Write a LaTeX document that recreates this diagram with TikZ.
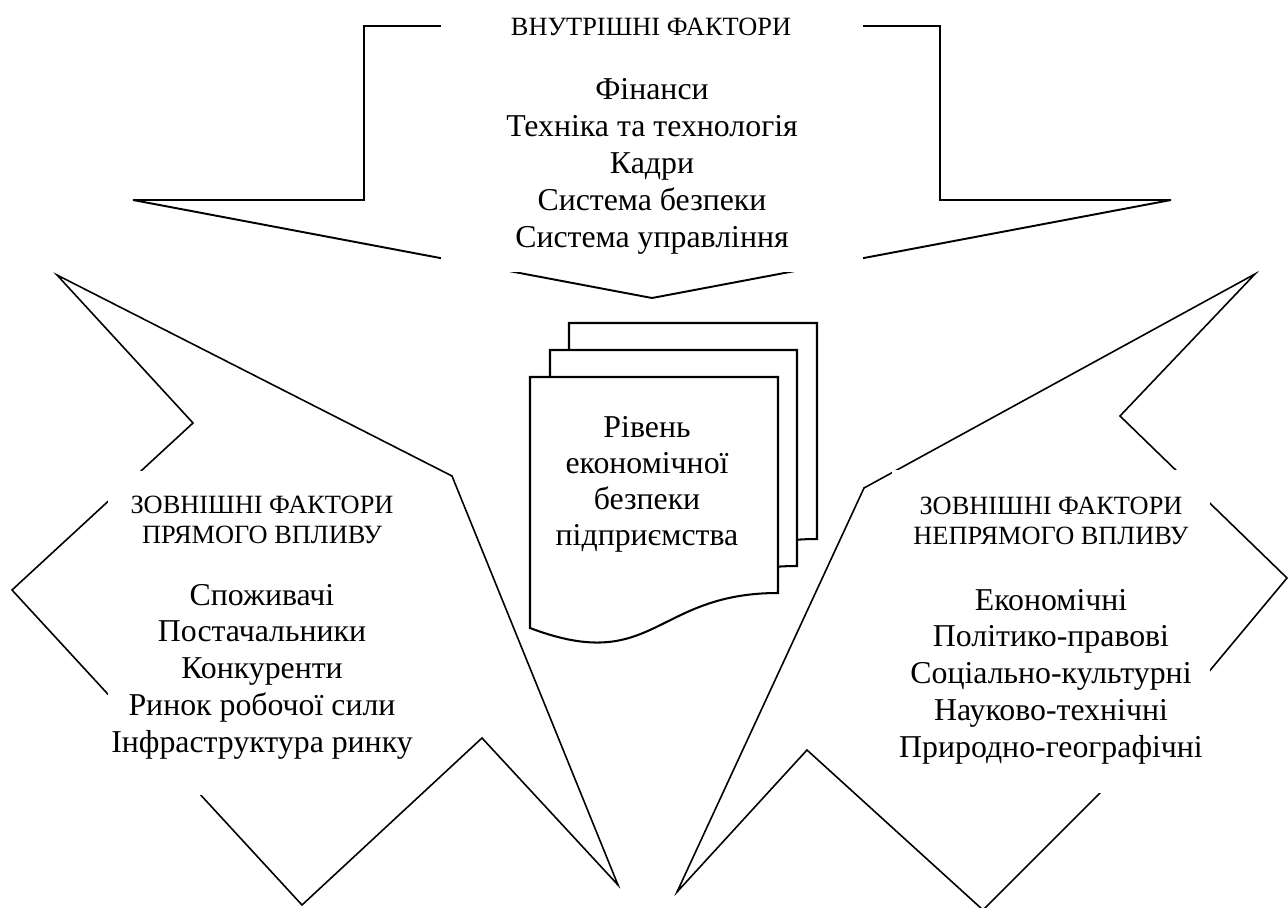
\documentclass[tikz,border=0pt]{standalone}
\usepackage{fontspec}
\setmainfont{Liberation Serif}

\begin{document}
\begin{tikzpicture}[x=0.44pt, y=0.44pt]
      \tikzstyle{every node}+=[inner sep=0pt]
      \tikzstyle{hd}=[font=\fontsize{11.6}{13.3}\selectfont, anchor=base]
      \tikzstyle{item}=[font=\fontsize{14}{16.1}\selectfont, anchor=base]
      \useasboundingbox (0,0) rectangle (1288,-908);
      \draw [black, line width=0.85pt] (364,-26) -- (940,-26) -- (940,-200) -- (1171,-200) -- (652,-298) -- (133,-200) -- (364,-200) -- cycle;
      \draw [black, line width=0.7pt] (57,-275) -- (193,-423) -- (12,-590) -- (302,-905) -- (482,-738) -- (618,-885) -- (452,-476) -- cycle;
      \draw [black, line width=0.7pt] (1255,-274) -- (1120,-416) -- (1287,-578) -- (1147,-746) -- (983,-910) -- (807,-750) -- (677,-892) -- (864,-488) -- cycle;
      \fill [white] (441,-8) rectangle (863,-272);
      \fill [white] (108,-471) rectangle (416,-795);
      \fill [white] (892,-470) rectangle (1210,-793);
      \filldraw [black, fill=white, line width=0.9pt] (569,-323) -- (817,-323) -- (817,-539) .. controls (693,-539) and (693,-621) .. (569,-574) -- cycle;
      \filldraw [black, fill=white, line width=0.9pt] (550,-350) -- (797,-350) -- (797,-566) .. controls (673,-566) and (673,-648) .. (550,-601) -- cycle;
      \filldraw [black, fill=white, line width=0.9pt] (530,-377) -- (778,-377) -- (778,-593) .. controls (654,-593) and (654,-675) .. (530,-628) -- cycle;
      \node [hd] (top) at (651,-35) {ВНУТРІШНІ ФАКТОРИ};
      \foreach \t [count=\i] in {Фінанси, Техніка та технологія, Кадри, Система безпеки, Система управління}
        \node [item] (top\i) at (652,{-100-36.8*(\i-1)}) {\t};
      \node [hd] (left) at (262,-513) {ЗОВНІШНІ ФАКТОРИ};
      \node [hd] (left0) at (262,-543) {ПРЯМОГО ВПЛИВУ};
      \foreach \t [count=\i] in {Споживачі, Постачальники, Конкуренти, Ринок робочої сили, Інфраструктура ринку}
        \node [item] (left\i) at (262,{-605-36.8*(\i-1)}) {\t};
      \node [hd] (right) at (1051,-514) {ЗОВНІШНІ ФАКТОРИ};
      \node [hd] (right0) at (1051,-544) {НЕПРЯМОГО ВПЛИВУ};
      \foreach \t [count=\i] in {Економічні, Політико-правові, Соціально-культурні, Науково-технічні, Природно-географічні}
        \node [item] (right\i) at (1051,{-610-36.8*(\i-1)}) {\t};
      \foreach \t [count=\i] in {Рівень, економічної, безпеки, підприємства}
        \node [item] (doc\i) at (647,{-437-36.3*(\i-1)}) {\t};
    \end{tikzpicture}
\end{document}
